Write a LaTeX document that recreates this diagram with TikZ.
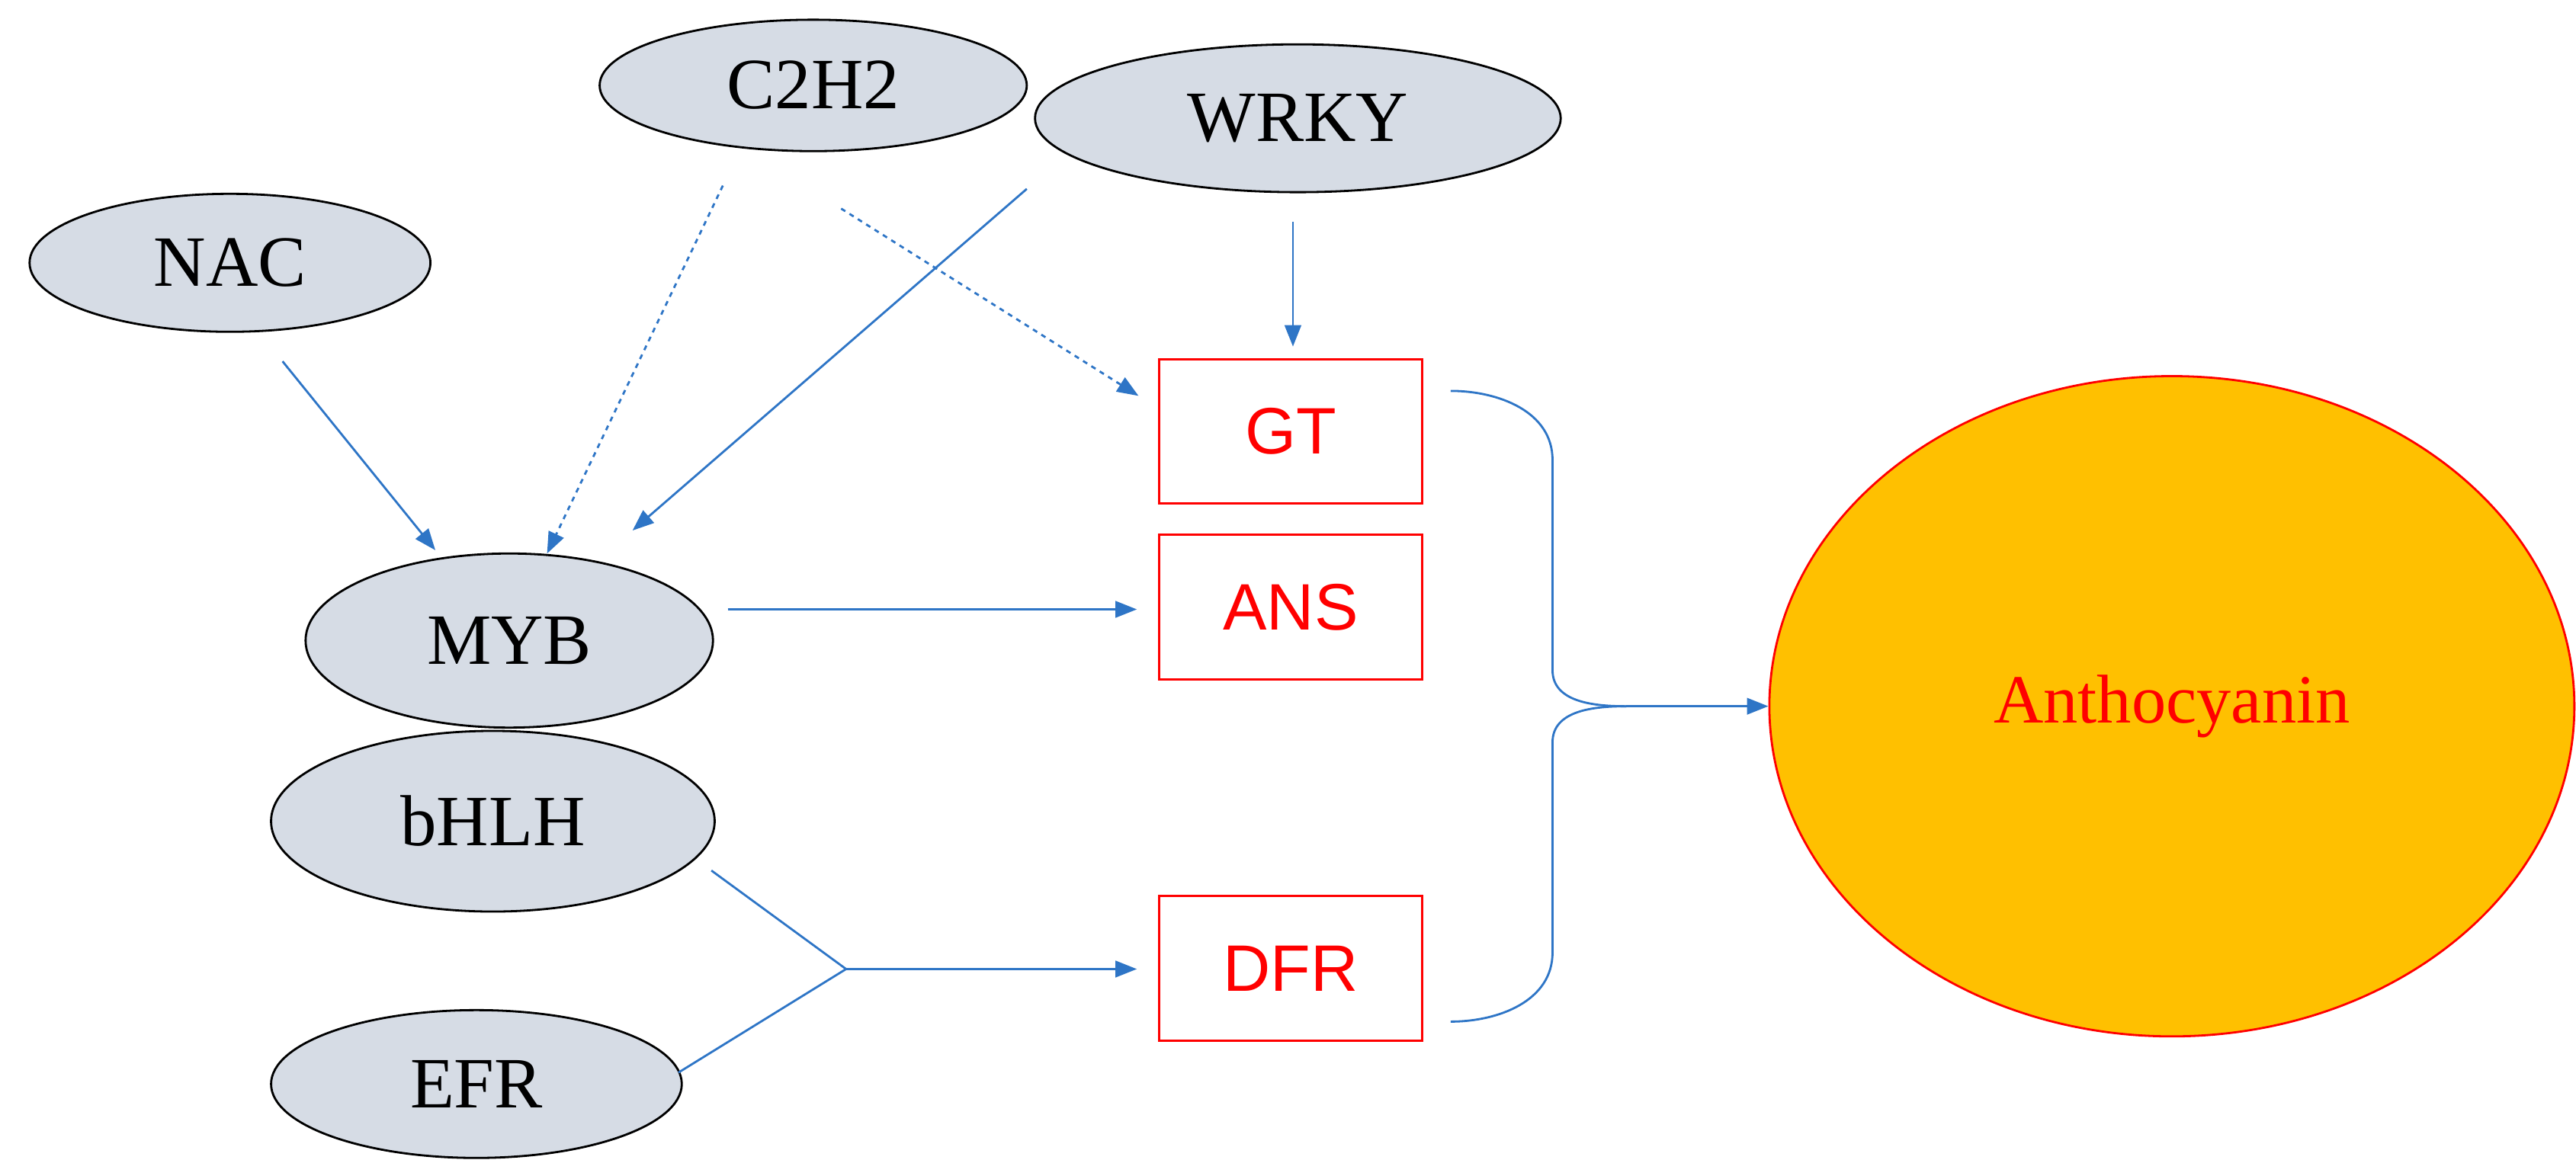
\documentclass[tikz,border=0pt]{standalone}
\usepackage{fontspec}
\setmainfont{Liberation Serif}
\newfontfamily\sansf{Liberation Sans}
\usetikzlibrary{arrows.meta,shapes.geometric}
\definecolor{ellfill}{HTML}{D6DCE5}
\definecolor{arr}{HTML}{2E75C6}
\definecolor{gold}{HTML}{FFC000}
\begin{document}
\begin{tikzpicture}[x=1pt,y=-1pt,
  ell/.style={ellipse,draw=black,line width=1.3pt,fill=ellfill,font=\fontsize{44}{48}\selectfont,inner sep=0pt},
  box/.style={draw=red,line width=1.3pt,minimum width=160pt,minimum height=88pt,text=red,font=\sansf\fontsize{40}{44}\selectfont,anchor=north west},
  con/.style={draw=arr,line width=1.3pt},
  ar/.style={con,-{Triangle[length=13pt,width=10pt]}},
  dar/.style={ar,dashed}]
\useasboundingbox (0,0) rectangle (1568,716);
\node[ell,minimum width=260pt,minimum height=80pt] (c2h2) at (495,52) {C2H2};
\node[ell,minimum width=320pt,minimum height=90pt] (wrky) at (790,72) {WRKY};
\node[ell,minimum width=244pt,minimum height=84pt] (nac) at (140,160) {NAC};
\node[ell,minimum width=248pt,minimum height=106pt] (myb) at (310,390) {MYB};
\node[ell,minimum width=270pt,minimum height=110pt] (bhlh) at (300,500) {bHLH};
\node[ell,minimum width=250pt,minimum height=90pt] (efr) at (290,660) {EFR};
\node[box] (gt) at (705,218) {GT};
\node[box] (ans) at (705,325) {ANS};
\node[box] (dfr) at (705,545) {DFR};
\node[ellipse,draw=red,line width=1.3pt,fill=gold,minimum width=490pt,minimum height=402pt,text=red,font=\fontsize{42}{46}\selectfont] (antho) at (1322,430) {Anthocyanin};
% arrow endpoints
\coordinate (a1) at (172,220); \coordinate (b1) at (265,335);
\coordinate (a2) at (440,113); \coordinate (b2) at (333,337);
\coordinate (a3) at (625,115); \coordinate (b3) at (385,323);
\coordinate (a4) at (512,127); \coordinate (b4) at (693,241);
\coordinate (a5) at (787,135); \coordinate (b5) at (787,211);
\coordinate (a6) at (443,371); \coordinate (b6) at (692,371);
\coordinate (a7) at (433,530); \coordinate (a8) at (413,653);
\coordinate (j) at (515,590); \coordinate (b8) at (692,590);
\coordinate (t1) at (883,238); \coordinate (t2) at (883,622);
\coordinate (m) at (990,430);
\draw[ar] (a1) -- (b1);
\draw[dar] (a2) -- (b2);
\draw[ar] (a3) -- (b3);
\draw[dar] (a4) -- (b4);
\draw[ar] (a5) -- (b5);
\draw[ar] (a6) -- (b6);
\draw[con] (a7) -- (j) -- (a8);
\draw[ar] (j) -- (b8);
\draw[con] (t1) to[out=0,in=90] (945,280) -- (945,408) to[out=-90,in=180] (m);
\draw[con] (t2) to[out=0,in=-90] (945,580) -- (945,452) to[out=90,in=180] (m);
\draw[ar] (m) -- (antho.west);
\end{tikzpicture}
\end{document}
